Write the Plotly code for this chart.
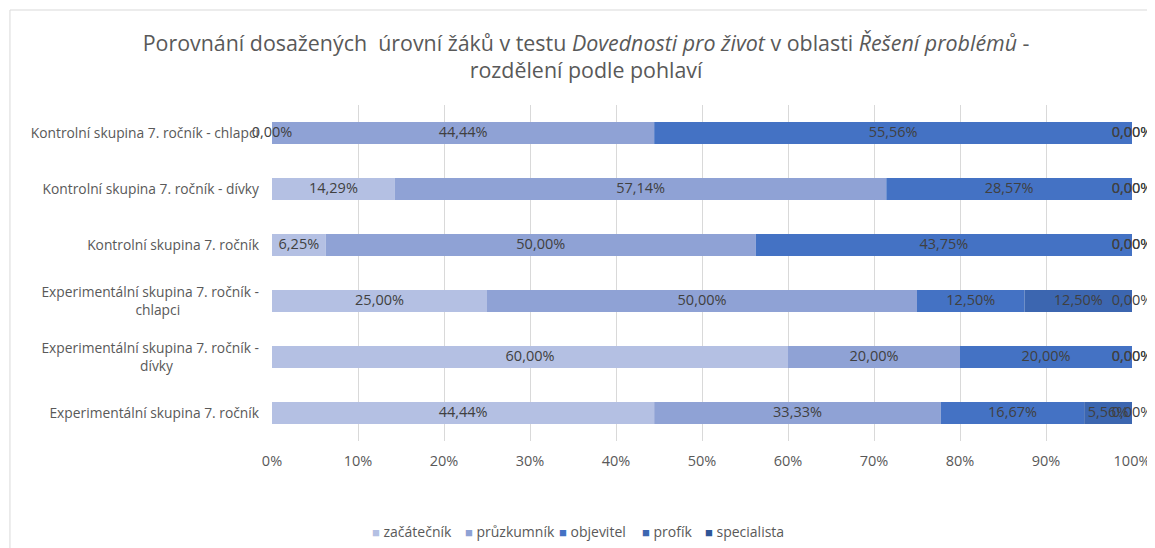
import plotly.graph_objects as go
import numpy as np

categories = [
    "Kontrolní skupina 7. ročník - chlapci",
    "Kontrolní skupina 7. ročník - dívky",
    "Kontrolní skupina 7. ročník",
    "Experimentální skupina 7. ročník - chlapci",
    "Experimentální skupina 7. ročník - dívky",
    "Experimentální skupina 7. ročník",
]
series_names = ["začátečník", "průzkumník", "objevitel", "profík", "specialista"]
zacatecnik = [0.00, 14.29, 6.25, 25.00, 60.00, 44.44]
pruzkumnik = [44.44, 57.14, 50.00, 50.00, 20.00, 33.33]
objevitel = [55.56, 28.57, 43.75, 12.50, 20.00, 16.67]
profik = [0.00, 0.00, 0.00, 12.50, 0.00, 5.56]
specialista = [0.00, 0.00, 0.00, 0.00, 0.00, 0.00]
tick_vals = [0, 10, 20, 30, 40, 50, 60, 70, 80, 90, 100]
tick_text = ["0%", "10%", "20%", "30%", "40%", "50%", "60%", "70%", "80%", "90%", "100%"]

colors = ["#b4c0e3", "#8fa2d5", "#4472c4", "#3c66b0", "#2f5597"]
FONT = "Open Sans"
GRAY = "#595959"


def wrap_label(s):
    # wrap long experimental labels after " -", centering the second line
    if s.startswith("Experimentální") and " - " in s:
        a, b = s.split(" - ", 1)
        pad = "&nbsp;" * (len(a) - len(b) - 3)
        return a + " -<br>" + b + pad
    return s


all_series = [zacatecnik, pruzkumnik, objevitel, profik, specialista]
fig = go.Figure()
base = np.zeros(len(categories))
for name, vals, col in zip(series_names, all_series, colors):
    v = np.array(vals, dtype=float)
    fig.add_trace(go.Bar(
        y=categories, x=v, base=base, orientation="h", name=name,
        marker=dict(color=col, line=dict(width=0)), width=0.39,
        showlegend=False,
    ))
    fig.add_trace(go.Scatter(
        y=categories, x=base + v / 2, mode="text",
        text=[f"{x:.2f}%".replace(".", ",") for x in v],
        textfont=dict(family=FONT, size=14.5, color="#404040"),
        showlegend=False, hoverinfo="skip", cliponaxis=False,
    ))
    base = base + v

# compact legend (text annotations with coloured squares)
legend_x = [0.1139, 0.2221, 0.3314, 0.4279, 0.5012]
annotations = []
for name, col, lx in zip(series_names, colors, legend_x):
    annotations.append(dict(
        xref="paper", yref="paper", x=lx, y=-0.2708, xanchor="left", yanchor="middle",
        showarrow=False,
        text=f"<span style='color:{col};font-size:13px'>■</span> {name}",
        font=dict(family=FONT, size=14, color=GRAY),
    ))

# the page body has an 8 px margin, so the figure is 8 px smaller and offset
fig.update_layout(
    width=1147, height=540,
    barmode="overlay",
    plot_bgcolor="white", paper_bgcolor="white",
    margin=dict(l=264, r=23, t=97, b=107),
    title=dict(
        text="Porovnání dosažených  úrovní žáků v testu <i>Dovednosti pro život</i> v oblasti <i>Řešení problémů</i> -<br>rozdělení podle pohlaví",
        x=0.504, xanchor="center", xref="container",
        y=0.921, yanchor="top", yref="container",
        font=dict(family=FONT, size=21.4, color=GRAY),
    ),
    xaxis=dict(
        range=[0, 100], tickvals=tick_vals, ticktext=tick_text,
        showgrid=True, gridcolor="#d9d9d9", gridwidth=1,
        zeroline=False, showline=False, ticks="", automargin=False,
        ticklabelstandoff=9,
        tickfont=dict(family=FONT, size=14.5, color=GRAY),
    ),
    yaxis=dict(
        autorange="reversed", showgrid=False, zeroline=False,
        showline=False, ticks="", ticklabelstandoff=12, automargin=False,
        tickvals=categories, ticktext=[wrap_label(c) for c in categories],
        tickfont=dict(family=FONT, size=13.8, color=GRAY),
    ),
    showlegend=False,
    annotations=annotations,
    shapes=[dict(type="rect", xref="paper", yref="paper",
                 x0=-0.3047, x1=1.2, y0=-0.5, y1=1.2827,
                 line=dict(color="#d9d9d9", width=1), layer="below")],
)
fig.write_html("out.html")
